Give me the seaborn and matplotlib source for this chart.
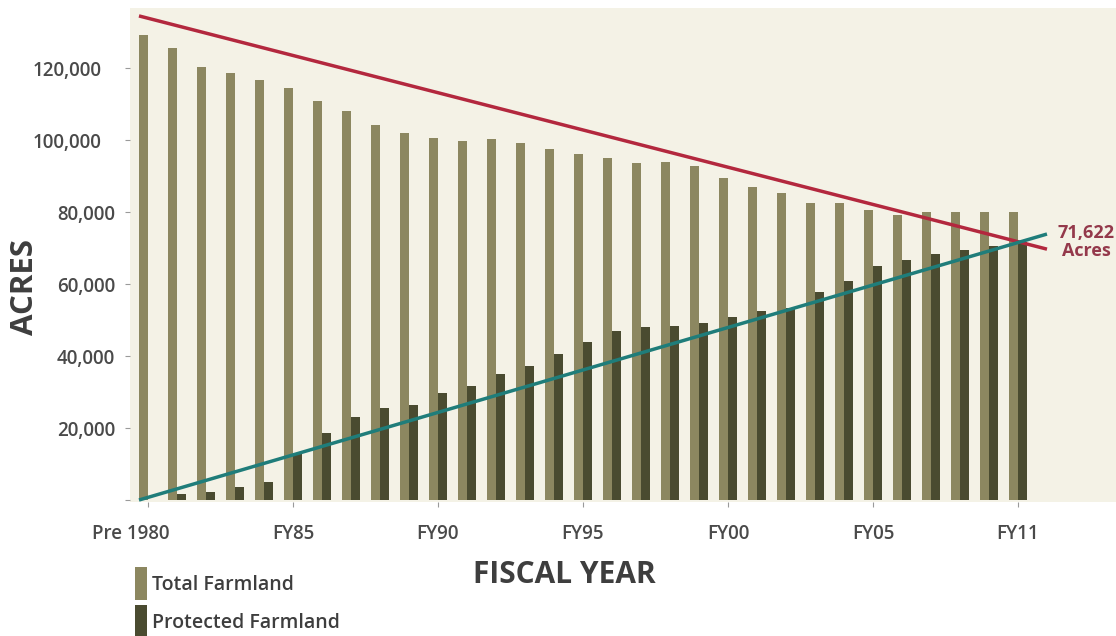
import matplotlib
matplotlib.use("Agg")
import matplotlib.pyplot as plt
import matplotlib.transforms as mtransforms
from matplotlib.patches import Patch
import pandas as pd
import seaborn as sns

# ---- data ----
years = ["Pre 1980", "FY81", "FY82", "FY83", "FY84", "FY85", "FY86", "FY87", "FY88",
         "FY89", "FY90", "FY91", "FY92", "FY93", "FY94", "FY95", "FY96", "FY97",
         "FY98", "FY99", "FY00", "FY01", "FY02", "FY03", "FY04", "FY05", "FY06",
         "FY07", "FY08", "FY09", "FY11"]
total_farmland = [129200, 125600, 120400, 118700, 116700, 114400, 110900, 108000,
                  104200, 102000, 100700, 99700, 100200, 99100, 97400, 96000, 94900,
                  93700, 94000, 92800, 89500, 87000, 85200, 82600, 82400, 80600,
                  79200, 80100, 80100, 80100, 80100]
protected_farmland = [0, 1800, 2100, 3700, 5100, 13000, 18500, 23100, 25500, 26400,
                      29800, 31700, 34900, 37200, 40500, 44000, 46900, 48000, 48400,
                      49100, 50900, 52400, 53400, 57900, 60800, 65000, 66700, 68300,
                      69400, 70500, 71622]
tick_labels = ["Pre 1980", "FY85", "FY90", "FY95", "FY00", "FY05", "FY11"]
y_ticks = [0, 20000, 40000, 60000, 80000, 100000, 120000]
trend_x = [-0.31, 31.0]
decline_y = [134500, 69700]
growth_y = [0, 73900]
crossing_value = 71622
series_names = ["Total Farmland", "Protected Farmland"]

df = pd.DataFrame({
    "year": years * 2,
    "acres": total_farmland + protected_farmland,
    "series": [series_names[0]] * len(years) + [series_names[1]] * len(years),
})

sns.set_style("white")
plt.rcParams["font.family"] = ["Open Sans", "DejaVu Sans"]

fig = plt.figure(figsize=(11.16, 6.36), dpi=100)
fig.patch.set_facecolor("white")
ax = fig.add_axes([130 / 1116, 1 - 502 / 636, (1116 - 130) / 1116, (502 - 8) / 636])
ax.set_facecolor("#F4F2E6")

colors = {"Total Farmland": "#8C8760", "Protected Farmland": "#4A4B30"}
sns.barplot(data=df, x="year", y="acres", hue="series", order=years,
            hue_order=series_names, palette=colors, saturation=1, width=0.62,
            ax=ax, legend=False, errorbar=None, linewidth=0)

ax.plot(trend_x, decline_y, color="#B3283E", lw=2.5, zorder=5, solid_capstyle="butt")
ax.plot(trend_x, growth_y, color="#1F7D7A", lw=2.5, zorder=6, solid_capstyle="butt")

ax.text(32.35, crossing_value, f"{crossing_value:,}\nAcres", ha="center", va="center",
        color="#94394B", fontsize=13, fontweight="bold", linespacing=1.0,
        clip_on=False)

ax.set_xlim(-0.62, 33.38)
ax.set_ylim(-550, 136700)
for s in ax.spines.values():
    s.set_visible(False)

ax.set_xticks([years.index(t) for t in tick_labels])
ax.set_xticklabels(tick_labels)
ax.set_yticks(y_ticks)
ax.set_yticklabels(["" if v == 0 else f"{v:,}" for v in y_ticks])
ax.tick_params(axis="both", which="both", direction="out", length=3.6, width=0.8,
               color="#9A9A9A", labelcolor="#4A4A4A", labelsize=13.5,
               bottom=True, left=True)
ax.tick_params(axis="x", pad=12)
ax.tick_params(axis="y", pad=7)
for lab in ax.get_xticklabels() + ax.get_yticklabels():
    lab.set_fontweight("semibold")
# first category label sits left of its tick, wide y labels shift left
ax.get_xticklabels()[0].set_transform(
    ax.get_xticklabels()[0].get_transform()
    + mtransforms.ScaledTranslation(-17 / 100, 0, fig.dpi_scale_trans))
for lab, v in zip(ax.get_yticklabels(), y_ticks):
    if v >= 100000:
        lab.set_transform(lab.get_transform()
                          + mtransforms.ScaledTranslation(-14 / 100, 0, fig.dpi_scale_trans))

ax.set_xlabel("")
ax.set_ylabel("")
fig.text(564 / 1116, 1 - 575 / 636, "FISCAL YEAR", ha="center", va="center",
         fontsize=21.5, fontweight="bold", color="#3E3E3E")
fig.text(25 / 1116, 1 - 287 / 636, "ACRES", ha="center", va="center", rotation=90,
         fontsize=22.5, fontweight="bold", color="#3E3E3E")

handles = [Patch(facecolor=colors[n], edgecolor="none") for n in series_names]
fig.legend(handles, series_names, loc="upper left",
           bbox_to_anchor=(135 / 1116, 1 - 567 / 636), bbox_transform=fig.transFigure,
           frameon=False, borderpad=0, borderaxespad=0, handlelength=0.62,
           handleheight=2.24, handletextpad=0.26, labelspacing=0.26,
           prop={"size": 14, "weight": "semibold"}, labelcolor="#3E3E3E")

fig.savefig("out.png", dpi=100, facecolor="white")
